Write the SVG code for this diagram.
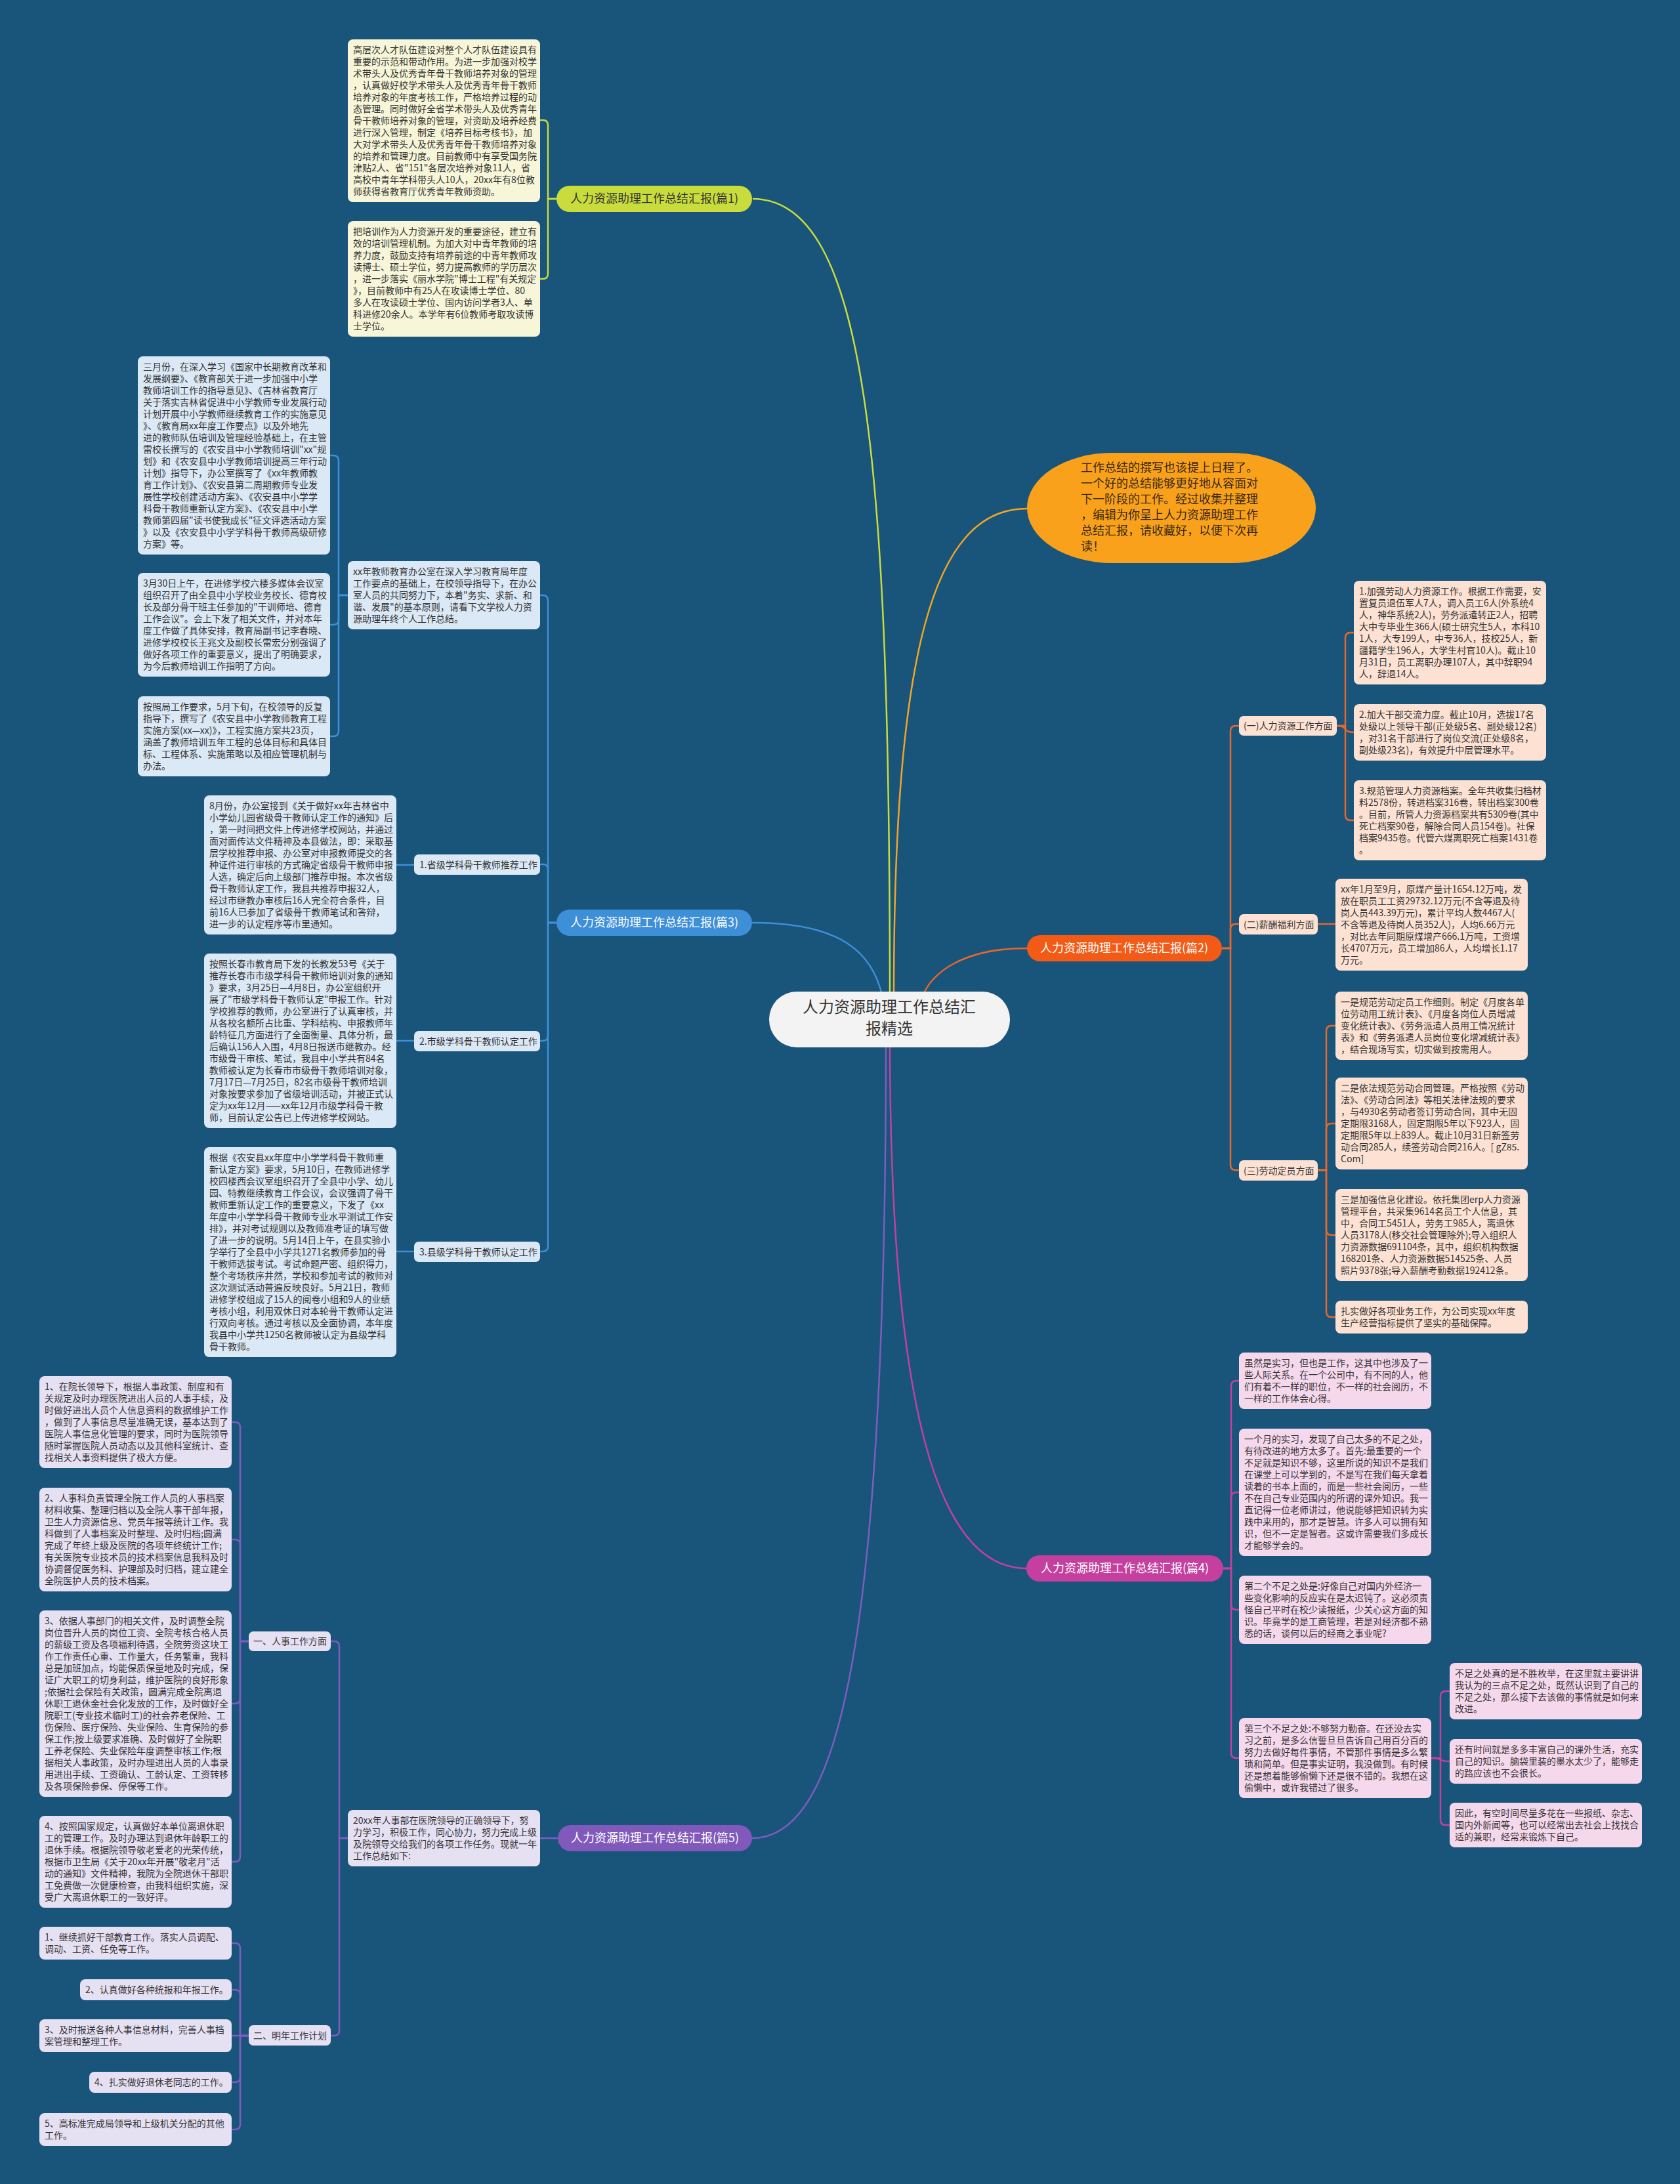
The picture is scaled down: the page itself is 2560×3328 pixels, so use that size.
<svg xmlns="http://www.w3.org/2000/svg" width="2560" height="3328" viewBox="0 0 2560 3328">
<style>
.b{font-family:"Noto Sans CJK SC","Noto Sans",sans-serif;font-size:14px;fill:#333}
.lb{font-family:"Noto Sans CJK SC","Noto Sans",sans-serif;font-size:18px;fill:#fff;text-anchor:middle}
.c1{fill:#f7f6d8}.c2{fill:#fde2d3}.c3{fill:#dbe8f5}.c4{fill:#f6d8ec}.c5{fill:#e6e0f3}
.k1{stroke:#c8dc3c}.k2{stroke:#e8672c}.k3{stroke:#3d8fd8}.k4{stroke:#c2419f}.k5{stroke:#7e5cc0}.k0{stroke:#f3a524}
#connectors path{fill:none;stroke-width:2.5}
</style>
<rect width="2560" height="3328" fill="#19547a"/>
<g id="connectors">
<path class="k1" stroke-width="3" d="M1147 303 C1320 303 1356 700 1356 1530"/>
<path class="k0" stroke-width="3" d="M1565 775 C1420 775 1362 1000 1362 1520"/>
<path class="k3" stroke-width="3" d="M1146 1406 C1280 1406 1330 1450 1345 1520"/>
<path class="k2" stroke-width="3" d="M1565 1445 C1470 1445 1420 1480 1405 1520"/>
<path class="k4" stroke-width="3" d="M1356 1580 C1356 2150 1430 2390 1564 2390"/>
<path class="k5" stroke-width="3" d="M1350 1580 C1350 2500 1280 2801 1146 2801"/>
<path class="k1" d="M848 303 H835 V191 Q835 183 827 183 H823"/>
<path class="k1" d="M848 303 H835 V417 Q835 425 827 425 H823"/>
<path class="k3" d="M848 1406 H835 V915 Q835 907 827 907 H823"/>
<path class="k3" d="M848 1406 H835 V1325 Q835 1317 827 1317 H823"/>
<path class="k3" d="M848 1406 H835 V1578 Q835 1586 827 1586 H823"/>
<path class="k3" d="M848 1406 H835 V1899 Q835 1907 827 1907 H823"/>
<path class="k3" d="M530 907 H516 V702 Q516 694 508 694 H503"/>
<path class="k3" d="M530 907 H516 V944 Q516 952 508 952 H503"/>
<path class="k3" d="M530 907 H516 V1114 Q516 1122 508 1122 H503"/>
<path class="k3" d="M631 1318 H604"/>
<path class="k3" d="M631 1586 H604"/>
<path class="k3" d="M631 1907 H604"/>
<path class="k5" d="M850 2801 H823"/>
<path class="k5" d="M530 2801 H517 V2509 Q517 2501 509 2501 H504"/>
<path class="k5" d="M530 2801 H517 V3094 Q517 3102 509 3102 H504"/>
<path class="k5" d="M379 2501 H366 V2175 Q366 2167 358 2167 H353"/>
<path class="k5" d="M379 2501 H366 V2354 Q366 2346 358 2346 H353"/>
<path class="k5" d="M379 2501 H366 V2588 Q366 2596 358 2596 H353"/>
<path class="k5" d="M379 2501 H366 V2829 Q366 2837 358 2837 H353"/>
<path class="k5" d="M379 3102 H366 V2969 Q366 2961 358 2961 H353"/>
<path class="k5" d="M379 3102 H366 V3040 Q366 3032 358 3032 H353"/>
<path class="k5" d="M379 3102 H353"/>
<path class="k5" d="M379 3102 H366 V3165 Q366 3173 358 3173 H353"/>
<path class="k5" d="M379 3102 H366 V3237 Q366 3245 358 3245 H353"/>
<path class="k2" d="M1862 1445 H1875 V1114 Q1875 1106 1883 1106 H1888"/>
<path class="k2" d="M1862 1445 H1875 V1416 Q1875 1408 1883 1408 H1888"/>
<path class="k2" d="M1862 1445 H1875 V1775 Q1875 1783 1883 1783 H1888"/>
<path class="k2" d="M2037 1106 H2050 V972 Q2050 964 2058 964 H2063"/>
<path class="k2" d="M2037 1106 C2055 1106 2045 1116 2063 1116"/>
<path class="k2" d="M2037 1106 H2050 V1242 Q2050 1250 2058 1250 H2063"/>
<path class="k2" d="M2008 1408 H2035"/>
<path class="k2" d="M2008 1783 H2021 V1571 Q2021 1563 2029 1563 H2035"/>
<path class="k2" d="M2008 1783 H2021 V1720 Q2021 1712 2029 1712 H2035"/>
<path class="k2" d="M2008 1783 H2021 V1874 Q2021 1882 2029 1882 H2035"/>
<path class="k2" d="M2008 1783 H2021 V1999 Q2021 2007 2029 2007 H2035"/>
<path class="k4" d="M1864 2390 H1876 V2112 Q1876 2104 1884 2104 H1888"/>
<path class="k4" d="M1864 2390 H1876 V2282 Q1876 2274 1884 2274 H1888"/>
<path class="k4" d="M1864 2390 H1876 V2445 Q1876 2453 1884 2453 H1888"/>
<path class="k4" d="M1864 2390 H1876 V2671 Q1876 2679 1884 2679 H1888"/>
<path class="k4" d="M2181 2679 H2195 V2585 Q2195 2577 2203 2577 H2209"/>
<path class="k4" d="M2181 2679 C2200 2679 2190 2684 2209 2684"/>
<path class="k4" d="M2181 2679 H2195 V2773 Q2195 2781 2203 2781 H2209"/>
</g>

<g id="center">
<rect x="1172" y="1511" width="367" height="85" rx="42" fill="#f3f3f3"/>
<text x="1355" y="1543" font-family="Noto Sans CJK SC, sans-serif" font-size="24" fill="#333" text-anchor="middle"><tspan x="1355">人力资源助理工作总结汇</tspan><tspan x="1355" dy="33">报精选</tspan></text>
</g>

<g id="intro">
<rect x="1565" y="690" width="440" height="168" rx="130" ry="84" fill="#f9a11b"/>
<text x="1647" y="719" font-family="Noto Sans CJK SC, sans-serif" font-size="18" fill="#3a2a10"><tspan x="1647">工作总结的撰写也该提上日程了。</tspan><tspan x="1647" dy="24">一个好的总结能够更好地从容面对</tspan><tspan x="1647" dy="24">下一阶段的工作。经过收集并整理</tspan><tspan x="1647" dy="24">，编辑为你呈上人力资源助理工作</tspan><tspan x="1647" dy="24">总结汇报，请收藏好，以便下次再</tspan><tspan x="1647" dy="24">读！</tspan></text>
</g>

<!-- 篇1 -->
<g id="label1">
<rect x="848" y="283" width="298" height="40" rx="20" fill="#c8dc3c"/>
<text class="lb" x="997" y="309" style="fill:#333">人力资源助理工作总结汇报(篇1)</text>
</g>
<g id="p1a">
<rect class="c1" x="530" y="60" width="293" height="248" rx="8"/>
<text class="b" x="538" y="81"><tspan x="538">高层次人才队伍建设对整个人才队伍建设具有</tspan><tspan x="538" dy="18">重要的示范和带动作用。为进一步加强对校学</tspan><tspan x="538" dy="18">术带头人及优秀青年骨干教师培养对象的管理</tspan><tspan x="538" dy="18">，认真做好校学术带头人及优秀青年骨干教师</tspan><tspan x="538" dy="18">培养对象的年度考核工作，严格培养过程的动</tspan><tspan x="538" dy="18">态管理。同时做好全省学术带头人及优秀青年</tspan><tspan x="538" dy="18">骨干教师培养对象的管理，对资助及培养经费</tspan><tspan x="538" dy="18">进行深入管理，制定《培养目标考核书》，加</tspan><tspan x="538" dy="18">大对学术带头人及优秀青年骨干教师培养对象</tspan><tspan x="538" dy="18">的培养和管理力度。目前教师中有享受国务院</tspan><tspan x="538" dy="18">津贴2人、省"151"各层次培养对象11人，省</tspan><tspan x="538" dy="18">高校中青年学科带头人10人，20xx年有8位教</tspan><tspan x="538" dy="18">师获得省教育厅优秀青年教师资助。</tspan></text>
</g>
<g id="p1b">
<rect class="c1" x="530" y="337" width="293" height="176" rx="8"/>
<text class="b" x="538" y="358"><tspan x="538">把培训作为人力资源开发的重要途径，建立有</tspan><tspan x="538" dy="18">效的培训管理机制。为加大对中青年教师的培</tspan><tspan x="538" dy="18">养力度，鼓励支持有培养前途的中青年教师攻</tspan><tspan x="538" dy="18">读博士、硕士学位，努力提高教师的学历层次</tspan><tspan x="538" dy="18">，进一步落实《丽水学院"博士工程"有关规定</tspan><tspan x="538" dy="18">》，目前教师中有25人在攻读博士学位、80</tspan><tspan x="538" dy="18">多人在攻读硕士学位、国内访问学者3人、单</tspan><tspan x="538" dy="18">科进修20余人。本学年有6位教师考取攻读博</tspan><tspan x="538" dy="18">士学位。</tspan></text>
</g>

<!-- 篇3 -->
<g id="label3">
<rect x="848" y="1386" width="298" height="40" rx="20" fill="#3d8fd8"/>
<text class="lb" x="997" y="1412">人力资源助理工作总结汇报(篇3)</text>
</g>
<g id="p3intro">
<rect class="c3" x="530" y="855" width="293" height="104" rx="8"/>
<text class="b" x="538" y="876"><tspan x="538">xx年教师教育办公室在深入学习教育局年度</tspan><tspan x="538" dy="18">工作要点的基础上，在校领导指导下，在办公</tspan><tspan x="538" dy="18">室人员的共同努力下，本着"务实、求新、和</tspan><tspan x="538" dy="18">谐、发展"的基本原则，请看下文学校人力资</tspan><tspan x="538" dy="18">源助理年终个人工作总结。</tspan></text>
</g>
<g id="p3b1">
<rect class="c3" x="210" y="543" width="293" height="302" rx="8"/>
<text class="b" x="218" y="564"><tspan x="218">三月份，在深入学习《国家中长期教育改革和</tspan><tspan x="218" dy="18">发展纲要》、《教育部关于进一步加强中小学</tspan><tspan x="218" dy="18">教师培训工作的指导意见》、《吉林省教育厅</tspan><tspan x="218" dy="18">关于落实吉林省促进中小学教师专业发展行动</tspan><tspan x="218" dy="18">计划开展中小学教师继续教育工作的实施意见</tspan><tspan x="218" dy="18">》、《教育局xx年度工作要点》以及外地先</tspan><tspan x="218" dy="18">进的教师队伍培训及管理经验基础上，在主管</tspan><tspan x="218" dy="18">雷校长撰写的《农安县中小学教师培训"xx"规</tspan><tspan x="218" dy="18">划》和《农安县中小学教师培训提高三年行动</tspan><tspan x="218" dy="18">计划》指导下，办公室撰写了《xx年教师教</tspan><tspan x="218" dy="18">育工作计划》、《农安县第二周期教师专业发</tspan><tspan x="218" dy="18">展性学校创建活动方案》、《农安县中小学学</tspan><tspan x="218" dy="18">科骨干教师重新认定方案》、《农安县中小学</tspan><tspan x="218" dy="18">教师第四届"读书使我成长"征文评选活动方案</tspan><tspan x="218" dy="18">》以及《农安县中小学学科骨干教师高级研修</tspan><tspan x="218" dy="18">方案》等。</tspan></text>
</g>
<g id="p3b2">
<rect class="c3" x="210" y="873" width="293" height="158" rx="8"/>
<text class="b" x="218" y="894"><tspan x="218">3月30日上午，在进修学校六楼多媒体会议室</tspan><tspan x="218" dy="18">组织召开了由全县中小学校业务校长、德育校</tspan><tspan x="218" dy="18">长及部分骨干班主任参加的"干训师培、德育</tspan><tspan x="218" dy="18">工作会议"。会上下发了相关文件，并对本年</tspan><tspan x="218" dy="18">度工作做了具体安排，教育局副书记李春晓、</tspan><tspan x="218" dy="18">进修学校校长王兆文及副校长雷宏分别强调了</tspan><tspan x="218" dy="18">做好各项工作的重要意义，提出了明确要求，</tspan><tspan x="218" dy="18">为今后教师培训工作指明了方向。</tspan></text>
</g>
<g id="p3b3">
<rect class="c3" x="210" y="1061" width="293" height="122" rx="8"/>
<text class="b" x="218" y="1082"><tspan x="218">按照局工作要求，5月下旬，在校领导的反复</tspan><tspan x="218" dy="18">指导下，撰写了《农安县中小学教师教育工程</tspan><tspan x="218" dy="18">实施方案(xx—xx)》，工程实施方案共23页，</tspan><tspan x="218" dy="18">涵盖了教师培训五年工程的总体目标和具体目</tspan><tspan x="218" dy="18">标、工程体系、实施策略以及相应管理机制与</tspan><tspan x="218" dy="18">办法。</tspan></text>
</g>
<g id="p3s1">
<rect class="c3" x="631" y="1302" width="192" height="31" rx="7"/>
<text class="b" x="639" y="1323">1.省级学科骨干教师推荐工作</text>
</g>
<g id="p3s1c">
<rect class="c3" x="311" y="1212" width="293" height="212" rx="8"/>
<text class="b" x="319" y="1233"><tspan x="319">8月份，办公室接到《关于做好xx年吉林省中</tspan><tspan x="319" dy="18">小学幼儿园省级骨干教师认定工作的通知》后</tspan><tspan x="319" dy="18">，第一时间把文件上传进修学校网站，并通过</tspan><tspan x="319" dy="18">面对面传达文件精神及本县做法，即：采取基</tspan><tspan x="319" dy="18">层学校推荐申报、办公室对申报教师提交的各</tspan><tspan x="319" dy="18">种证件进行审核的方式确定省级骨干教师申报</tspan><tspan x="319" dy="18">人选，确定后向上级部门推荐申报。本次省级</tspan><tspan x="319" dy="18">骨干教师认定工作，我县共推荐申报32人，</tspan><tspan x="319" dy="18">经过市继教办审核后16人完全符合条件，目</tspan><tspan x="319" dy="18">前16人已参加了省级骨干教师笔试和答辩，</tspan><tspan x="319" dy="18">进一步的认定程序等市里通知。</tspan></text>
</g>
<g id="p3s2">
<rect class="c3" x="631" y="1571" width="192" height="31" rx="7"/>
<text class="b" x="639" y="1592">2.市级学科骨干教师认定工作</text>
</g>
<g id="p3s2c">
<rect class="c3" x="311" y="1453" width="293" height="266" rx="8"/>
<text class="b" x="319" y="1474"><tspan x="319">按照长春市教育局下发的长教发53号《关于</tspan><tspan x="319" dy="18">推荐长春市市级学科骨干教师培训对象的通知</tspan><tspan x="319" dy="18">》要求，3月25日—4月8日，办公室组织开</tspan><tspan x="319" dy="18">展了"市级学科骨干教师认定"申报工作。针对</tspan><tspan x="319" dy="18">学校推荐的教师，办公室进行了认真审核，并</tspan><tspan x="319" dy="18">从各校名额所占比重、学科结构、申报教师年</tspan><tspan x="319" dy="18">龄特征几方面进行了全面衡量、具体分析，最</tspan><tspan x="319" dy="18">后确认156人入围，4月8日报送市继教办。经</tspan><tspan x="319" dy="18">市级骨干审核、笔试，我县中小学共有84名</tspan><tspan x="319" dy="18">教师被认定为长春市市级骨干教师培训对象，</tspan><tspan x="319" dy="18">7月17日—7月25日，82名市级骨干教师培训</tspan><tspan x="319" dy="18">对象按要求参加了省级培训活动，并被正式认</tspan><tspan x="319" dy="18">定为xx年12月——xx年12月市级学科骨干教</tspan><tspan x="319" dy="18">师，目前认定公告已上传进修学校网站。</tspan></text>
</g>
<g id="p3s3">
<rect class="c3" x="631" y="1892" width="192" height="31" rx="7"/>
<text class="b" x="639" y="1913">3.县级学科骨干教师认定工作</text>
</g>
<g id="p3s3c">
<rect class="c3" x="311" y="1748" width="293" height="320" rx="8"/>
<text class="b" x="319" y="1769"><tspan x="319">根据《农安县xx年度中小学学科骨干教师重</tspan><tspan x="319" dy="18">新认定方案》要求，5月10日，在教师进修学</tspan><tspan x="319" dy="18">校四楼西会议室组织召开了全县中小学、幼儿</tspan><tspan x="319" dy="18">园、特教继续教育工作会议，会议强调了骨干</tspan><tspan x="319" dy="18">教师重新认定工作的重要意义，下发了《xx</tspan><tspan x="319" dy="18">年度中小学学科骨干教师专业水平测试工作安</tspan><tspan x="319" dy="18">排》，并对考试规则以及教师准考证的填写做</tspan><tspan x="319" dy="18">了进一步的说明。5月14日上午，在县实验小</tspan><tspan x="319" dy="18">学举行了全县中小学共1271名教师参加的骨</tspan><tspan x="319" dy="18">干教师选拔考试。考试命题严密、组织得力，</tspan><tspan x="319" dy="18">整个考场秩序井然，学校和参加考试的教师对</tspan><tspan x="319" dy="18">这次测试活动普遍反映良好。5月21日，教师</tspan><tspan x="319" dy="18">进修学校组成了15人的阅卷小组和9人的业绩</tspan><tspan x="319" dy="18">考核小组，利用双休日对本轮骨干教师认定进</tspan><tspan x="319" dy="18">行双向考核。通过考核以及全面协调，本年度</tspan><tspan x="319" dy="18">我县中小学共1250名教师被认定为县级学科</tspan><tspan x="319" dy="18">骨干教师。</tspan></text>
</g>

<!-- 篇2 -->
<g id="label2">
<rect x="1565" y="1425" width="297" height="40" rx="20" fill="#f25a16"/>
<text class="lb" x="1713" y="1451">人力资源助理工作总结汇报(篇2)</text>
</g>
<g id="p2s1">
<rect class="c2" x="1888" y="1091" width="149" height="30" rx="7"/>
<text class="b" x="1895" y="1111">(一)人力资源工作方面</text>
</g>
<g id="p2s1c1">
<rect class="c2" x="2063" y="885" width="293" height="158" rx="8"/>
<text class="b" x="2071" y="906"><tspan x="2071">1.加强劳动人力资源工作。根据工作需要，安</tspan><tspan x="2071" dy="18">置复员退伍军人7人，调入员工6人(外系统4</tspan><tspan x="2071" dy="18">人，神华系统2人)，劳务派遣转正2人，招聘</tspan><tspan x="2071" dy="18">大中专毕业生366人(硕士研究生5人，本科10</tspan><tspan x="2071" dy="18">1人，大专199人，中专36人，技校25人，新</tspan><tspan x="2071" dy="18">疆籍学生196人，大学生村官10人)。截止10</tspan><tspan x="2071" dy="18">月31日，员工离职办理107人，其中辞职94</tspan><tspan x="2071" dy="18">人，辞退14人。</tspan></text>
</g>
<g id="p2s1c2">
<rect class="c2" x="2063" y="1073" width="293" height="86" rx="8"/>
<text class="b" x="2071" y="1094"><tspan x="2071">2.加大干部交流力度。截止10月，选拔17名</tspan><tspan x="2071" dy="18">处级以上领导干部(正处级5名、副处级12名)</tspan><tspan x="2071" dy="18">，对31名干部进行了岗位交流(正处级8名，</tspan><tspan x="2071" dy="18">副处级23名)，有效提升中层管理水平。</tspan></text>
</g>
<g id="p2s1c3">
<rect class="c2" x="2063" y="1189" width="293" height="122" rx="8"/>
<text class="b" x="2071" y="1210"><tspan x="2071">3.规范管理人力资源档案。全年共收集归档材</tspan><tspan x="2071" dy="18">料2578份，转进档案316卷，转出档案300卷</tspan><tspan x="2071" dy="18">。目前，所管人力资源档案共有5309卷(其中</tspan><tspan x="2071" dy="18">死亡档案90卷，解除合同人员154卷)。社保</tspan><tspan x="2071" dy="18">档案9435卷。代管六煤离职死亡档案1431卷</tspan><tspan x="2071" dy="18">。</tspan></text>
</g>
<g id="p2s2">
<rect class="c2" x="1888" y="1393" width="120" height="31" rx="7"/>
<text class="b" x="1895" y="1414">(二)薪酬福利方面</text>
</g>
<g id="p2s2c">
<rect class="c2" x="2035" y="1339" width="293" height="140" rx="8"/>
<text class="b" x="2043" y="1360"><tspan x="2043">xx年1月至9月，原煤产量计1654.12万吨，发</tspan><tspan x="2043" dy="18">放在职员工工资29732.12万元(不含等退及待</tspan><tspan x="2043" dy="18">岗人员443.39万元)，累计平均人数4467人(</tspan><tspan x="2043" dy="18">不含等退及待岗人员352人)，人均6.66万元</tspan><tspan x="2043" dy="18">，对比去年同期原煤增产666.1万吨，工资增</tspan><tspan x="2043" dy="18">长4707万元，员工增加86人，人均增长1.17</tspan><tspan x="2043" dy="18">万元。</tspan></text>
</g>
<g id="p2s3">
<rect class="c2" x="1888" y="1768" width="120" height="31" rx="7"/>
<text class="b" x="1895" y="1789">(三)劳动定员方面</text>
</g>
<g id="p2s3c1">
<rect class="c2" x="2035" y="1511" width="293" height="104" rx="8"/>
<text class="b" x="2043" y="1532"><tspan x="2043">一是规范劳动定员工作细则。制定《月度各单</tspan><tspan x="2043" dy="18">位劳动用工统计表》、《月度各岗位人员增减</tspan><tspan x="2043" dy="18">变化统计表》、《劳务派遣人员用工情况统计</tspan><tspan x="2043" dy="18">表》和《劳务派遣人员岗位变化增减统计表》</tspan><tspan x="2043" dy="18">，结合现场写实，切实做到按需用人。</tspan></text>
</g>
<g id="p2s3c2">
<rect class="c2" x="2035" y="1642" width="293" height="140" rx="8"/>
<text class="b" x="2043" y="1663"><tspan x="2043">二是依法规范劳动合同管理。严格按照《劳动</tspan><tspan x="2043" dy="18">法》、《劳动合同法》等相关法律法规的要求</tspan><tspan x="2043" dy="18">，与4930名劳动者签订劳动合同，其中无固</tspan><tspan x="2043" dy="18">定期限3168人，固定期限5年以下923人，固</tspan><tspan x="2043" dy="18">定期限5年以上839人。截止10月31日新签劳</tspan><tspan x="2043" dy="18">动合同285人，续签劳动合同216人。[ gZ85.</tspan><tspan x="2043" dy="18">Com]</tspan></text>
</g>
<g id="p2s3c3">
<rect class="c2" x="2035" y="1812" width="293" height="140" rx="8"/>
<text class="b" x="2043" y="1833"><tspan x="2043">三是加强信息化建设。依托集团erp人力资源</tspan><tspan x="2043" dy="18">管理平台，共采集9614名员工个人信息，其</tspan><tspan x="2043" dy="18">中，合同工5451人，劳务工985人，离退休</tspan><tspan x="2043" dy="18">人员3178人(移交社会管理除外);导入组织人</tspan><tspan x="2043" dy="18">力资源数据691104条，其中，组织机构数据</tspan><tspan x="2043" dy="18">168201条、人力资源数据514525条、人员</tspan><tspan x="2043" dy="18">照片9378张;导入薪酬考勤数据192412条。</tspan></text>
</g>
<g id="p2s3c4">
<rect class="c2" x="2035" y="1982" width="293" height="50" rx="8"/>
<text class="b" x="2043" y="2003"><tspan x="2043">扎实做好各项业务工作，为公司实现xx年度</tspan><tspan x="2043" dy="18">生产经营指标提供了坚实的基础保障。</tspan></text>
</g>

<!-- 篇4 -->
<g id="label4">
<rect x="1564" y="2370" width="300" height="40" rx="20" fill="#c53f9f"/>
<text class="lb" x="1714" y="2396">人力资源助理工作总结汇报(篇4)</text>
</g>
<g id="p4c1">
<rect class="c4" x="1888" y="2061" width="293" height="86" rx="8"/>
<text class="b" x="1896" y="2082"><tspan x="1896">虽然是实习，但也是工作，这其中也涉及了一</tspan><tspan x="1896" dy="18">些人际关系。在一个公司中，有不同的人，他</tspan><tspan x="1896" dy="18">们有着不一样的职位，不一样的社会阅历，不</tspan><tspan x="1896" dy="18">一样的工作体会心得。</tspan></text>
</g>
<g id="p4c2">
<rect class="c4" x="1888" y="2177" width="293" height="194" rx="8"/>
<text class="b" x="1896" y="2198"><tspan x="1896">一个月的实习，发现了自己太多的不足之处，</tspan><tspan x="1896" dy="18">有待改进的地方太多了。首先:最重要的一个</tspan><tspan x="1896" dy="18">不足就是知识不够，这里所说的知识不是我们</tspan><tspan x="1896" dy="18">在课堂上可以学到的，不是写在我们每天拿着</tspan><tspan x="1896" dy="18">读着的书本上面的，而是一些社会阅历，一些</tspan><tspan x="1896" dy="18">不在自己专业范围内的所谓的课外知识。我一</tspan><tspan x="1896" dy="18">直记得一位老师讲过，他说能够把知识转为实</tspan><tspan x="1896" dy="18">践中来用的，那才是智慧。许多人可以拥有知</tspan><tspan x="1896" dy="18">识，但不一定是智者。这或许需要我们多成长</tspan><tspan x="1896" dy="18">才能够学会的。</tspan></text>
</g>
<g id="p4c3">
<rect class="c4" x="1888" y="2401" width="293" height="104" rx="8"/>
<text class="b" x="1896" y="2422"><tspan x="1896">第二个不足之处是:好像自己对国内外经济一</tspan><tspan x="1896" dy="18">些变化影响的反应实在是太迟钝了。这必须责</tspan><tspan x="1896" dy="18">怪自己平时在校少读报纸，少关心这方面的知</tspan><tspan x="1896" dy="18">识。毕竟学的是工商管理，若是对经济都不熟</tspan><tspan x="1896" dy="18">悉的话，谈何以后的经商之事业呢?</tspan></text>
</g>
<g id="p4c4">
<rect class="c4" x="1888" y="2618" width="293" height="122" rx="8"/>
<text class="b" x="1896" y="2639"><tspan x="1896">第三个不足之处:不够努力勤奋。在还没去实</tspan><tspan x="1896" dy="18">习之前，是多么信誓旦旦告诉自己用百分百的</tspan><tspan x="1896" dy="18">努力去做好每件事情，不管那件事情是多么繁</tspan><tspan x="1896" dy="18">琐和简单。但是事实证明，我没做到。有时候</tspan><tspan x="1896" dy="18">还是想着能够偷懒下还是很不错的。我想在这</tspan><tspan x="1896" dy="18">偷懒中，或许我错过了很多。</tspan></text>
</g>
<g id="p4g1">
<rect class="c4" x="2209" y="2534" width="293" height="86" rx="8"/>
<text class="b" x="2217" y="2555"><tspan x="2217">不足之处真的是不胜枚举，在这里就主要讲讲</tspan><tspan x="2217" dy="18">我认为的三点不足之处，既然认识到了自己的</tspan><tspan x="2217" dy="18">不足之处，那么接下去该做的事情就是如何来</tspan><tspan x="2217" dy="18">改进。</tspan></text>
</g>
<g id="p4g2">
<rect class="c4" x="2209" y="2650" width="293" height="68" rx="8"/>
<text class="b" x="2217" y="2671"><tspan x="2217">还有时间就是多多丰富自己的课外生活，充实</tspan><tspan x="2217" dy="18">自己的知识。脑袋里装的墨水太少了，能够走</tspan><tspan x="2217" dy="18">的路应该也不会很长。</tspan></text>
</g>
<g id="p4g3">
<rect class="c4" x="2209" y="2747" width="293" height="68" rx="8"/>
<text class="b" x="2217" y="2768"><tspan x="2217">因此，有空时间尽量多花在一些报纸、杂志、</tspan><tspan x="2217" dy="18">国内外新闻等，也可以经常出去社会上找找合</tspan><tspan x="2217" dy="18">适的兼职，经常来锻炼下自己。</tspan></text>
</g>

<!-- 篇5 -->
<g id="label5">
<rect x="850" y="2781" width="296" height="40" rx="20" fill="#8059bb"/>
<text class="lb" x="998" y="2807">人力资源助理工作总结汇报(篇5)</text>
</g>
<g id="p5main">
<rect class="c5" x="530" y="2758" width="293" height="86" rx="8"/>
<text class="b" x="538" y="2779"><tspan x="538">20xx年人事部在医院领导的正确领导下，努</tspan><tspan x="538" dy="18">力学习，积极工作，同心协力，努力完成上级</tspan><tspan x="538" dy="18">及院领导交给我们的各项工作任务。现就一年</tspan><tspan x="538" dy="18">工作总结如下:</tspan></text>
</g>
<g id="p5s1">
<rect class="c5" x="379" y="2486" width="125" height="30" rx="7"/>
<text class="b" x="386" y="2506">一、人事工作方面</text>
</g>
<g id="p5s2">
<rect class="c5" x="379" y="3086" width="125" height="31" rx="7"/>
<text class="b" x="386" y="3107">二、明年工作计划</text>
</g>
<g id="p5a1">
<rect class="c5" x="60" y="2097" width="293" height="140" rx="8"/>
<text class="b" x="68" y="2118"><tspan x="68">1、在院长领导下，根据人事政策、制度和有</tspan><tspan x="68" dy="18">关规定及时办理医院进出人员的人事手续，及</tspan><tspan x="68" dy="18">时做好进出人员个人信息资料的数据维护工作</tspan><tspan x="68" dy="18">，做到了人事信息尽量准确无误，基本达到了</tspan><tspan x="68" dy="18">医院人事信息化管理的要求，同时为医院领导</tspan><tspan x="68" dy="18">随时掌握医院人员动态以及其他科室统计、查</tspan><tspan x="68" dy="18">找相关人事资料提供了极大方便。</tspan></text>
</g>
<g id="p5a2">
<rect class="c5" x="60" y="2267" width="293" height="158" rx="8"/>
<text class="b" x="68" y="2288"><tspan x="68">2、人事科负责管理全院工作人员的人事档案</tspan><tspan x="68" dy="18">材料收集、整理归档以及全院人事干部年报，</tspan><tspan x="68" dy="18">卫生人力资源信息、党员年报等统计工作。我</tspan><tspan x="68" dy="18">科做到了人事档案及时整理、及时归档;圆满</tspan><tspan x="68" dy="18">完成了年终上级及医院的各项年终统计工作;</tspan><tspan x="68" dy="18">有关医院专业技术员的技术档案信息我科及时</tspan><tspan x="68" dy="18">协调督促医务科、护理部及时归档，建立建全</tspan><tspan x="68" dy="18">全院医护人员的技术档案。</tspan></text>
</g>
<g id="p5a3">
<rect class="c5" x="60" y="2454" width="293" height="284" rx="8"/>
<text class="b" x="68" y="2475"><tspan x="68">3、依据人事部门的相关文件，及时调整全院</tspan><tspan x="68" dy="18">岗位晋升人员的岗位工资、全院考核合格人员</tspan><tspan x="68" dy="18">的薪级工资及各项福利待遇，全院劳资这块工</tspan><tspan x="68" dy="18">作工作责任心重、工作量大，任务繁重，我科</tspan><tspan x="68" dy="18">总是加班加点，均能保质保量地及时完成，保</tspan><tspan x="68" dy="18">证广大职工的切身利益，维护医院的良好形象</tspan><tspan x="68" dy="18">;依据社会保险有关政策，圆满完成全院离退</tspan><tspan x="68" dy="18">休职工退休金社会化发放的工作，及时做好全</tspan><tspan x="68" dy="18">院职工(专业技术临时工)的社会养老保险、工</tspan><tspan x="68" dy="18">伤保险、医疗保险、失业保险、生育保险的参</tspan><tspan x="68" dy="18">保工作;按上级要求准确、及时做好了全院职</tspan><tspan x="68" dy="18">工养老保险、失业保险年度调整审核工作;根</tspan><tspan x="68" dy="18">据相关人事政策，及时办理进出人员的人事录</tspan><tspan x="68" dy="18">用进出手续、工资确认、工龄认定、工资转移</tspan><tspan x="68" dy="18">及各项保险参保、停保等工作。</tspan></text>
</g>
<g id="p5a4">
<rect class="c5" x="60" y="2767" width="293" height="140" rx="8"/>
<text class="b" x="68" y="2788"><tspan x="68">4、按照国家规定，认真做好本单位离退休职</tspan><tspan x="68" dy="18">工的管理工作。及时办理达到退休年龄职工的</tspan><tspan x="68" dy="18">退休手续。根据院领导敬老爱老的光荣传统，</tspan><tspan x="68" dy="18">根据市卫生局《关于20xx年开展"敬老月"活</tspan><tspan x="68" dy="18">动的通知》文件精神，我院为全院退休干部职</tspan><tspan x="68" dy="18">工免费做一次健康检查，由我科组织实施，深</tspan><tspan x="68" dy="18">受广大离退休职工的一致好评。</tspan></text>
</g>
<g id="p5b1">
<rect class="c5" x="60" y="2936" width="293" height="50" rx="8"/>
<text class="b" x="68" y="2957"><tspan x="68">1、继续抓好干部教育工作。落实人员调配、</tspan><tspan x="68" dy="18">调动、工资、任免等工作。</tspan></text>
</g>
<g id="p5b2">
<rect class="c5" x="122" y="3016" width="231" height="32" rx="8"/>
<text class="b" x="130" y="3037">2、认真做好各种统报和年报工作。</text>
</g>
<g id="p5b3">
<rect class="c5" x="60" y="3077" width="293" height="50" rx="8"/>
<text class="b" x="68" y="3098"><tspan x="68">3、及时报送各种人事信息材料，完善人事档</tspan><tspan x="68" dy="18">案管理和整理工作。</tspan></text>
</g>
<g id="p5b4">
<rect class="c5" x="136" y="3157" width="217" height="32" rx="8"/>
<text class="b" x="144" y="3178">4、扎实做好退休老同志的工作。</text>
</g>
<g id="p5b5">
<rect class="c5" x="60" y="3220" width="293" height="50" rx="8"/>
<text class="b" x="68" y="3241"><tspan x="68">5、高标准完成局领导和上级机关分配的其他</tspan><tspan x="68" dy="18">工作。</tspan></text>
</g>
</svg>
